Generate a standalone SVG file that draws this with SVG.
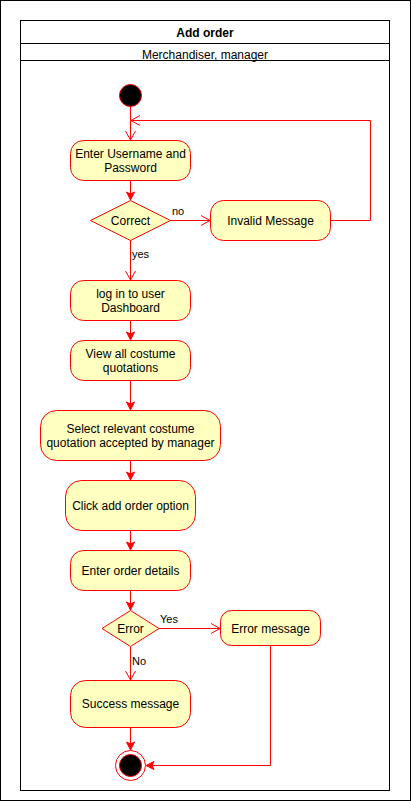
<svg xmlns="http://www.w3.org/2000/svg" width="411" height="801" viewBox="0 0 411 801">
<style>
.node{fill:#ffffc0;stroke:#ff0000;stroke-width:1}
.t{font-family:"Liberation Sans",Arial,sans-serif;font-size:12px;fill:#000;text-anchor:middle}
.lbl{font-family:"Liberation Sans",Arial,sans-serif;font-size:11px;fill:#000}
.edge{fill:none;stroke:#ff0000;stroke-width:1}
.frame{fill:none;stroke:#000;stroke-width:1}
</style>
<defs>
<marker id="open" markerUnits="userSpaceOnUse" markerWidth="12" markerHeight="12" viewBox="-10 -6 12 12" refX="0" refY="0" orient="auto">
<path d="M-9,-5 L0,0 L-9,5" fill="none" stroke="#ff0000" stroke-width="1"/>
</marker>
<marker id="classic" markerUnits="userSpaceOnUse" markerWidth="12" markerHeight="12" viewBox="-10 -6 12 12" refX="0" refY="0" orient="auto">
<path d="M-8,-4 L0,0 L-8,4 L-6,0 Z" fill="#ff0000" stroke="#ff0000" stroke-width="1"/>
</marker>
</defs>
<rect x="0" y="0" width="411" height="801" fill="#fff"/>
<rect class="frame" x="0.5" y="0.5" width="410" height="800"/>
<g id="pool">
<rect class="frame" x="20.5" y="20.5" width="369" height="770" fill="#fff"/>
<line class="frame" x1="20.5" y1="43.5" x2="389.5" y2="43.5"/>
<line class="frame" x1="20.5" y1="60.5" x2="389.5" y2="60.5"/>
<text class="t" x="205" y="37" font-weight="bold">Add order</text>
<text class="t" x="205" y="59">Merchandiser, manager</text>
</g>
<g id="edges">
<path class="edge" d="M130.5,106 V140" marker-end="url(#open)"/>
<path class="edge" d="M130.5,180 V200" marker-end="url(#classic)"/>
<path class="edge" d="M170,220.5 H210" marker-end="url(#open)"/>
<text class="lbl" x="172" y="215">no</text>
<path class="edge" d="M330,220.5 H370.5 V120.5 H131" marker-end="url(#open)"/>
<path class="edge" d="M130.5,240 V280" marker-end="url(#open)"/>
<text class="lbl" x="132" y="258">yes</text>
<path class="edge" d="M130.5,320 V340" marker-end="url(#classic)"/>
<path class="edge" d="M130.5,380 V410" marker-end="url(#classic)"/>
<path class="edge" d="M130.5,460 V480" marker-end="url(#classic)"/>
<path class="edge" d="M130.5,530 V550" marker-end="url(#classic)"/>
<path class="edge" d="M130.5,590 V610" marker-end="url(#classic)"/>
<path class="edge" d="M158,628.5 H220" marker-end="url(#open)"/>
<text class="lbl" x="160" y="623">Yes</text>
<path class="edge" d="M130.5,647 V680" marker-end="url(#open)"/>
<text class="lbl" x="132" y="665">No</text>
<path class="edge" d="M130.5,727 V750" marker-end="url(#classic)"/>
<path class="edge" d="M270.5,645 V765.5 H146" marker-end="url(#classic)"/>
</g>
<g id="start">
<circle cx="130.5" cy="95.5" r="11" fill="#000" stroke="#ff0000"/>
</g>
<g id="enter-credentials">
<rect class="node" x="70.5" y="140.5" width="120" height="40" rx="13"/>
<text class="t" x="130.5" y="158">Enter Username and</text>
<text class="t" x="130.5" y="172">Password</text>
</g>
<g id="correct">
<path class="node" d="M130.5,200.5 L170.5,220.5 L130.5,240.5 L90.5,220.5 Z"/>
<text class="t" x="130.5" y="225">Correct</text>
</g>
<g id="invalid">
<rect class="node" x="210.5" y="200.5" width="120" height="40" rx="13"/>
<text class="t" x="270.5" y="225">Invalid Message</text>
</g>
<g id="login">
<rect class="node" x="70.5" y="280.5" width="120" height="40" rx="13"/>
<text class="t" x="130.5" y="298">log in to user</text>
<text class="t" x="130.5" y="312">Dashboard</text>
</g>
<g id="view">
<rect class="node" x="70.5" y="340.5" width="120" height="40" rx="13"/>
<text class="t" x="130.5" y="358">View all costume</text>
<text class="t" x="130.5" y="372">quotations</text>
</g>
<g id="select">
<rect class="node" x="40.5" y="410.5" width="180" height="50" rx="16"/>
<text class="t" x="130.5" y="433">Select relevant costume</text>
<text class="t" x="130.5" y="447">quotation accepted by manager</text>
</g>
<g id="click">
<rect class="node" x="65.5" y="480.5" width="130" height="50" rx="16"/>
<text class="t" x="130.5" y="510">Click add order option</text>
</g>
<g id="details">
<rect class="node" x="70.5" y="550.5" width="120" height="40" rx="13"/>
<text class="t" x="130.5" y="575">Enter order details</text>
</g>
<g id="error">
<path class="node" d="M130.5,610.5 L159,628.5 L130.5,646.5 L102,628.5 Z"/>
<text class="t" x="130.5" y="633">Error</text>
</g>
<g id="error-message">
<rect class="node" x="220.5" y="610.5" width="100" height="35" rx="11"/>
<text class="t" x="270.5" y="633">Error message</text>
</g>
<g id="success">
<rect class="node" x="70.5" y="680.5" width="120" height="47" rx="15"/>
<text class="t" x="130.5" y="708">Success message</text>
</g>
<g id="end">
<circle cx="130.5" cy="765.5" r="15" fill="#fff" stroke="#ff0000"/>
<circle cx="130.5" cy="765.5" r="11" fill="#000" stroke="#ff0000"/>
</g>
</svg>
